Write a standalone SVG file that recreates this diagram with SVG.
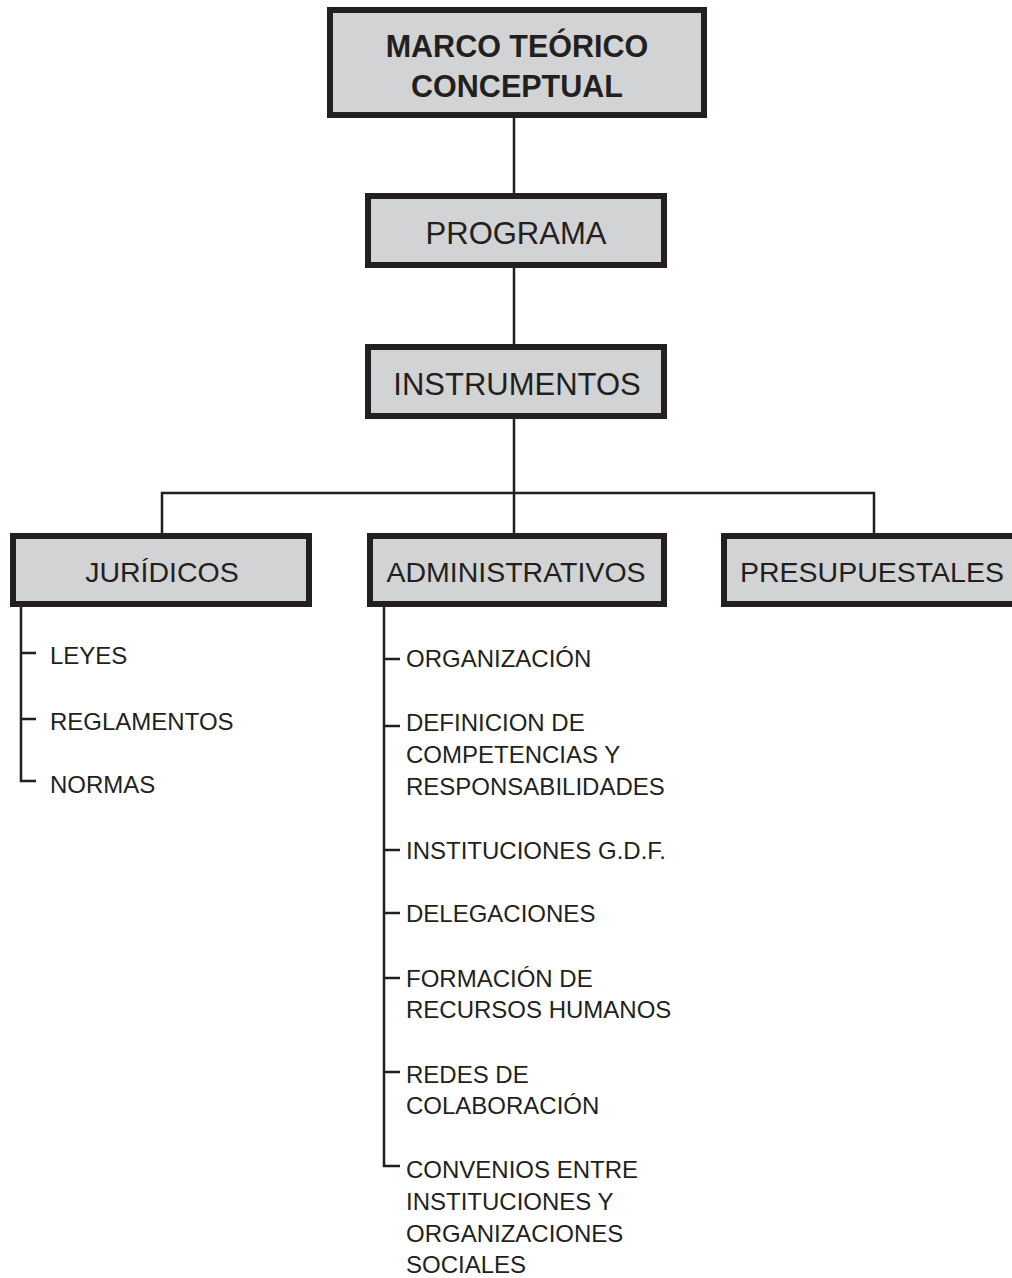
<svg xmlns="http://www.w3.org/2000/svg" width="1012" height="1278" viewBox="0 0 1012 1278">
<style>
.box{fill:#d1d3d4;stroke:#231f20;stroke-width:6}
.ln{fill:none;stroke:#231f20;stroke-width:2.5}
.t{font-family:"Liberation Sans",Arial,sans-serif;fill:#231f20}
.bt{font-size:31px;text-anchor:middle}
.hb{font-size:30.5px;font-weight:bold;text-anchor:middle}
.st{font-size:24px}
</style>
<rect width="1012" height="1278" fill="#ffffff"/>
<g id="connectors">
<path class="ln" d="M514 118V193M514 268V344M514 419V533M162 533V493H874V533"/>
<path class="ln" d="M21 607V781H36M21 653H36M21 719H36"/>
<path class="ln" d="M384 607V1166H400M384 659H400M384 726H400M384 850H400M384 913H400M384 978H400M384 1072H400"/>
</g>
<g id="marco">
<rect class="box" x="330" y="10" width="374" height="105"/>
<text class="t hb" x="517" y="57">MARCO TEÓRICO</text>
<text class="t hb" x="517" y="97">CONCEPTUAL</text>
</g>
<g id="programa">
<rect class="box" x="368" y="196" width="296" height="69"/>
<text class="t bt" x="516" y="244">PROGRAMA</text>
</g>
<g id="instrumentos">
<rect class="box" x="368" y="347" width="296" height="69"/>
<text class="t bt" x="517" y="395">INSTRUMENTOS</text>
</g>
<g id="juridicos">
<rect class="box" x="13" y="536" width="296" height="68"/>
<text class="t" x="162" y="582" font-size="28.5" text-anchor="middle">JURÍDICOS</text>
</g>
<g id="administrativos">
<rect class="box" x="370" y="536" width="294" height="68"/>
<text class="t" x="516" y="582" font-size="28.5" text-anchor="middle">ADMINISTRATIVOS</text>
</g>
<g id="presupuestales">
<rect class="box" x="724" y="536" width="296" height="68"/>
<text class="t" x="872" y="582" font-size="28.5" text-anchor="middle">PRESUPUESTALES</text>
</g>
<g id="juridicos-items">
<text class="t st" x="50" y="664">LEYES</text>
<text class="t st" x="50" y="730">REGLAMENTOS</text>
<text class="t st" x="50" y="793">NORMAS</text>
</g>
<g id="admin-items">
<text class="t st" x="406" y="667">ORGANIZACIÓN</text>
<text class="t st" x="406" y="731">DEFINICION DE</text>
<text class="t st" x="406" y="763">COMPETENCIAS Y</text>
<text class="t st" x="406" y="795">RESPONSABILIDADES</text>
<text class="t st" x="406" y="859">INSTITUCIONES G.D.F.</text>
<text class="t st" x="406" y="922">DELEGACIONES</text>
<text class="t st" x="406" y="987">FORMACIÓN DE</text>
<text class="t st" x="406" y="1018">RECURSOS HUMANOS</text>
<text class="t st" x="406" y="1083">REDES DE</text>
<text class="t st" x="406" y="1114">COLABORACIÓN</text>
<text class="t st" x="406" y="1178">CONVENIOS ENTRE</text>
<text class="t st" x="406" y="1210">INSTITUCIONES Y</text>
<text class="t st" x="406" y="1242">ORGANIZACIONES</text>
<text class="t st" x="406" y="1273">SOCIALES</text>
</g>
</svg>
